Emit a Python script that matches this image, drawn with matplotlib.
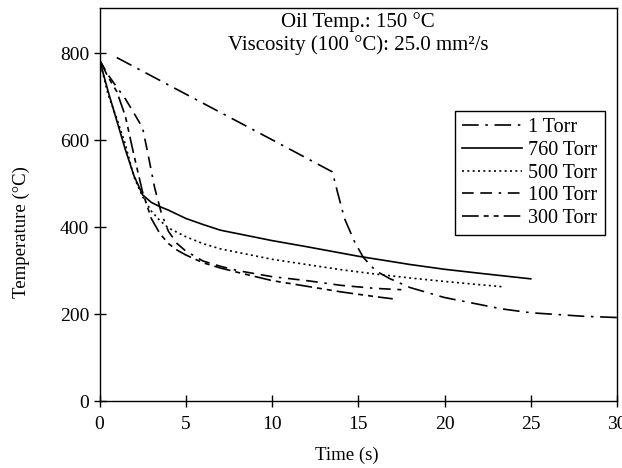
import matplotlib
matplotlib.use("Agg")
import matplotlib.pyplot as plt

plt.rcParams['font.family'] = ['Liberation Serif', 'DejaVu Serif']
plt.rcParams['font.size'] = 13.5

# 1 Torr
t1 = [1.0, 5.0, 10.0, 13.5, 13.8, 14.2, 14.8, 15.3, 16.0, 16.8, 18.0, 20.0, 23.3, 25.0, 28.0, 30.0]
T1 = [790, 706, 601, 527, 480, 420, 365, 330, 300, 282, 261, 238, 212, 203, 195, 192]

# 760 Torr
t760 = [0, 0.5, 1.0, 1.5, 2.0, 2.5, 3.0, 3.5, 4, 5, 6, 7, 8, 10, 12, 15, 18, 20, 22, 25]
T760 = [785, 712, 645, 578, 518, 474, 457, 447, 439, 420, 406, 393, 385, 369, 355, 333, 314, 303, 294, 281]

# 500 Torr
t500 = [0, 0.5, 1, 1.5, 2, 2.5, 3, 3.5, 4, 5, 6, 7, 8, 10, 12, 14, 16, 18, 20, 23.3]
T500 = [785, 705, 650, 590, 515, 470, 437, 415, 398, 378, 362, 350, 342, 326, 314, 302, 292, 283, 275, 263]

# 100 Torr
t100 = [0, 0.5, 1.0, 1.5, 2.0, 2.5, 2.8, 3.2, 3.6, 4.0, 4.5, 5.0, 6.0, 7.0, 8.0, 10, 12, 14, 16, 17.5]
T100 = [785, 750, 722, 695, 662, 628, 570, 490, 430, 390, 362, 345, 322, 310, 300, 286, 277, 266, 259, 256]

# 300 Torr
t300 = [0, 0.5, 1.0, 1.5, 2.0, 2.5, 3.0, 3.5, 4.0, 4.5, 5, 6, 7, 8, 10, 12, 14, 16, 17]
T300 = [785, 745, 712, 655, 565, 480, 420, 385, 362, 347, 336, 318, 306, 296, 277, 264, 251, 240, 235]

fig = plt.figure(figsize=(6.22, 4.68), dpi=100)
ax = fig.add_axes([99.5/622, 67/468, 517.5/622, 393/468])

lw = 1.2
ax.plot(t1, T1, color='black', lw=lw, dashes=[10, 4, 1.5, 4], label='1 Torr')
ax.plot(t760, T760, color='black', lw=lw, label='760 Torr')
ax.plot(t500, T500, color='black', lw=lw, dashes=[1.2, 2], label='500 Torr')
ax.plot(t100, T100, color='black', lw=lw, dashes=[7, 4, 7, 4, 1.5, 4], label='100 Torr')
ax.plot(t300, T300, color='black', lw=lw, dashes=[10, 3, 3, 3, 3, 3], label='300 Torr')

ax.set_xlim(0, 30)
ax.set_ylim(0, 904)
ax.set_xticks([0, 5, 10, 15, 20, 25, 30])
ax.set_yticks([0, 200, 400, 600, 800])
ax.tick_params(direction='inout', length=9, width=1, top=False, right=False,
               labelsize=14)
ax.tick_params(axis='x', pad=6)
ax.tick_params(axis='y', pad=3)
for s in ax.spines.values():
    s.set_linewidth(1)

ax.set_xlabel('Time (s)')
ax.set_ylabel('Temperature (°C)')
ax.xaxis.set_label_coords(0.478, -0.115)
ax.yaxis.set_label_coords(-0.134, 0.43)

ax.text(0.5, 0.99, 'Oil Temp.: 150 °C\nViscosity (100 °C): 25.0 mm²/s',
        transform=ax.transAxes, ha='center', va='top', linespacing=1.2,
        fontsize=15)

leg = ax.legend(loc='upper right', bbox_to_anchor=(0.976, 0.738), borderaxespad=0,
                fancybox=False, edgecolor='black', framealpha=1, handlelength=3.0,
                handletextpad=0.3, borderpad=0.35, labelspacing=0.18, fontsize=14.5)
leg.get_frame().set_linewidth(1)

fig.savefig('out.png', dpi=100)
